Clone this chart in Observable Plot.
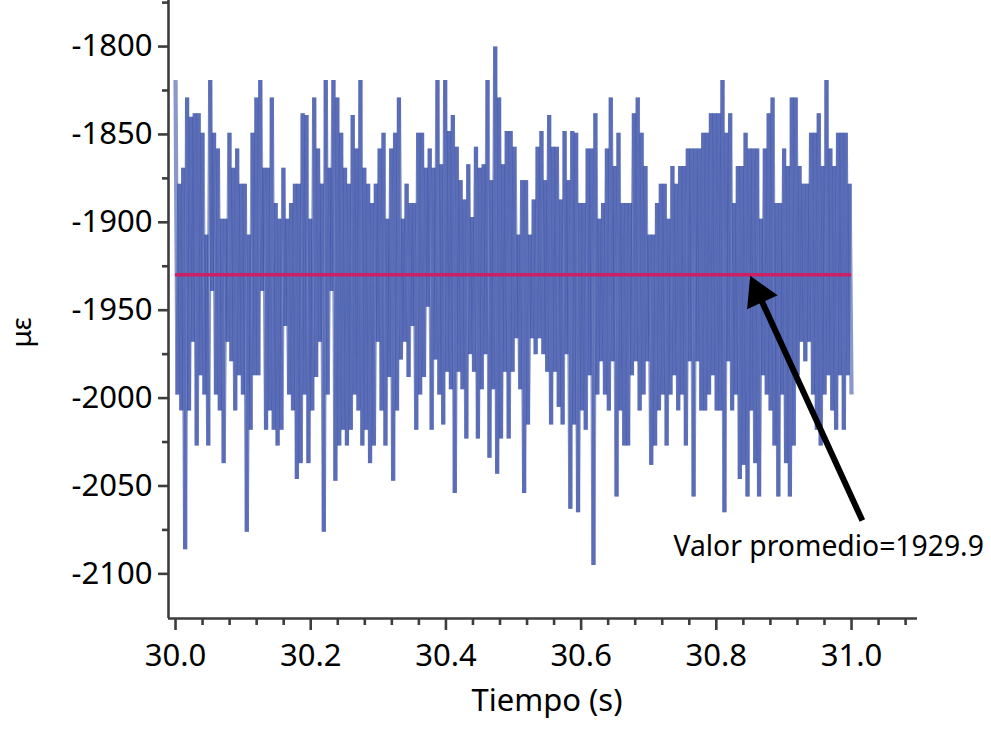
<!DOCTYPE html>
<html>
<head>
<meta charset="utf-8">
<script src="https://cdn.jsdelivr.net/npm/d3@7"></script>
<script src="https://cdn.jsdelivr.net/npm/@observablehq/plot@0.6"></script>
<style>
  body { margin: 0; background: #fff; }
  #chart svg { display: block; }
</style>
</head>
<body>
<div id="chart"></div>
<script>
// Time span of the record (s)
const startTime = 30.0;
const endTime = 31.0;

// Successive high / low readings of the strain signal (µε)
const peaks = [
  -1819,-1878,-1869,-1829,-1840,-1838,-1838,-1849,-1907,-1819,-1849,-1858,-1898,-1898,-1849,-1869,-1858,-1878,-1878,-1907,-1849,-1829,-1819,-1869,-1869,-1829,-1889,-1898,-1869,-1898,-1889,-1878,-1878,-1838,
  -1839,-1898,-1829,-1858,-1878,-1819,-1869,-1819,-1829,-1849,-1869,-1878,-1839,-1858,-1819,-1869,-1878,-1889,-1878,-1858,-1849,-1898,-1858,-1849,-1829,-1898,-1878,-1889,-1889,-1849,-1849,-1869,-1858,-1869,-1819,
  -1867,-1819,-1848,-1839,-1857,-1876,-1887,-1867,-1897,-1857,-1869,-1867,-1819,-1876,-1800,-1829,-1867,-1848,-1848,-1857,-1907,-1876,-1876,-1907,-1887,-1857,-1848,-1876,-1839,-1857,-1857,-1887,-1848,-1876,-1848,
  -1849,-1889,-1889,-1858,-1858,-1838,-1898,-1889,-1858,-1829,-1868,-1849,-1889,-1889,-1889,-1838,-1829,-1849,-1868,-1907,-1907,-1889,-1878,-1878,-1898,-1868,-1878,-1868,-1868,-1858,-1858,-1858,-1858,-1849,-1849,-1838,
  -1838,-1838,-1819,-1849,-1838,-1889,-1868,-1868,-1849,-1858,-1858,-1858,-1898,-1858,-1838,-1829,-1889,-1889,-1858,-1868,-1829,-1829,-1868,-1878,-1878,-1849,-1849,-1838,-1868,-1819,-1858,-1868,-1849,-1849,-1849,-1878
];
const troughs = [
  -1998,-2007,-2086,-2007,-1968,-2027,-1987,-1998,-2027,-1939,-1998,-2007,-2037,-1968,-1979,-2007,-1987,-1998,-2076,-2018,-1987,-1987,-1939,-2018,-2007,-2018,-2027,-2018,-1959,-1998,-2007,-2046,-2037,-1998,
  -2037,-2007,-1988,-1968,-2076,-1998,-1939,-2047,-2027,-2018,-2027,-2018,-1998,-2007,-2027,-2018,-2037,-2027,-1968,-2007,-2027,-1988,-2047,-2007,-1978,-1968,-1988,-1959,-2018,-1998,-1988,-1948,-2018,-1978,-1998,
  -2015,-1985,-1995,-2054,-1985,-1995,-2023,-1975,-1985,-2023,-1995,-1975,-2034,-1995,-2043,-2023,-1985,-2023,-1985,-1966,-1995,-2054,-2015,-1966,-1975,-1966,-1975,-1985,-2015,-1985,-2005,-2015,-1975,-2063,-2015,
  -2065,-2007,-2018,-1987,-2095,-1998,-1979,-1998,-2007,-1979,-2056,-2007,-2027,-2027,-1987,-1979,-2007,-1998,-1979,-2038,-2027,-2007,-1998,-2027,-1998,-1987,-2007,-1998,-2027,-1979,-2056,-1979,-2007,-2007,-1998,-1987,
  -2007,-2007,-2065,-1979,-2007,-1998,-2046,-2038,-2056,-2007,-2037,-2056,-1987,-1998,-2007,-2027,-2056,-1998,-2037,-2056,-2027,-1987,-1968,-1979,-1968,-1998,-2018,-2027,-1998,-1987,-2007,-2018,-1987,-2018,-1987,-1998
];

const meanValue = -1929.9;

const yTicks = [-2100, -2050, -2000, -1950, -1900, -1850, -1800];
const yMinorTicks = [-2075, -2025, -1975, -1925, -1875, -1825, -1775];
const xTicks = [30.0, 30.2, 30.4, 30.6, 30.8, 31.0];
const xMinorTicks = [30.04, 30.08, 30.12, 30.16, 30.24, 30.28, 30.32, 30.36, 30.44, 30.48, 30.52, 30.56,
                     30.64, 30.68, 30.72, 30.76, 30.84, 30.88, 30.92, 30.96, 31.04, 31.08];

const xLabel = "Tiempo (s)";
const yLabel = "με";
const annotationText = "Valor promedio=1929.9";
const annotationAt = { t: 30.7367, v: -2084.5 };
const arrowFrom = { t: 31.016, v: -2069.7 };
const arrowHeadAt = { t: 30.8621, v: -1940.5 };
const arrowAngle = -24.6;

const xDomain = [29.9896, 31.0976];
const yDomain = [-2125.4, -1773.8];

// Build the series
const samples = [];
peaks.forEach((p, i) => { samples.push(p, troughs[i]); });
const n = samples.length;
const series = samples.map((v, i) => ({ t: startTime + (endTime - startTime) * i / (n - 1), v }));
const segments = d3.pairs(series).map(([a, b]) => ({ x1: a.t, y1: a.v, x2: b.t, y2: b.v }));

const axisColor = "#3d3d3d";

const chart = Plot.plot({
  width: 991,
  height: 731,
  marginLeft: 168,
  marginRight: 74,
  marginTop: 0,
  marginBottom: 113,
  x: { domain: xDomain },
  y: { domain: yDomain },
  style: { fontFamily: "'Noto Sans', sans-serif", fontSize: "31px", color: "#000", background: "#fff", overflow: "visible" },
  marks: [
    Plot.link(segments, { x1: "x1", y1: "y1", x2: "x2", y2: "y2", stroke: "#3a51a8", strokeOpacity: 0.6, strokeWidth: 4.2 }),
    Plot.ruleY([meanValue], { x1: startTime, x2: endTime, stroke: "#cc1f66", strokeWidth: 3.5 }),
    Plot.ruleX([xDomain[0]], { stroke: axisColor, strokeWidth: 2.6 }),
    Plot.ruleY([yDomain[0]], { stroke: axisColor, strokeWidth: 2.6 }),
    Plot.axisY({ ticks: yTicks, tickSize: 10, tickPadding: 6, tickFormat: d => String(d), label: null, stroke: axisColor, strokeWidth: 2.6, fontSize: 31 }),
    Plot.axisY({ ticks: yMinorTicks, tickSize: 6, tickFormat: () => "", label: null, stroke: axisColor, strokeWidth: 2.6 }),
    Plot.axisX({ ticks: xTicks, tickSize: 12, tickPadding: 13, tickFormat: d => d.toFixed(1), label: null, stroke: axisColor, strokeWidth: 2.6, fontSize: 31 }),
    Plot.axisX({ ticks: xMinorTicks, tickSize: 7, tickFormat: () => "", label: null, stroke: axisColor, strokeWidth: 2.6 }),
    Plot.link([0], { x1: arrowFrom.t, y1: arrowFrom.v, x2: arrowHeadAt.t, y2: arrowHeadAt.v, stroke: "#000", strokeWidth: 6 }),
    Plot.dot([0], { x: arrowHeadAt.t, y: arrowHeadAt.v, symbol: "triangle", r: 12.5, rotate: arrowAngle, fill: "#000", stroke: "none" }),
    Plot.text([annotationText], { x: annotationAt.t, y: annotationAt.v, text: d => d, textAnchor: "start", fontSize: 28.3, fill: "#000" }),
    Plot.text([xLabel], { frameAnchor: "bottom", dy: 92, dx: 4, text: d => d, fontSize: 31, fill: "#000" }),
    Plot.text([yLabel], { frameAnchor: "left", dx: -146, dy: 38, rotate: -90, text: d => d, fontSize: 28, fill: "#000" })
  ]
});

document.getElementById("chart").appendChild(chart);
</script>
</body>
</html>
